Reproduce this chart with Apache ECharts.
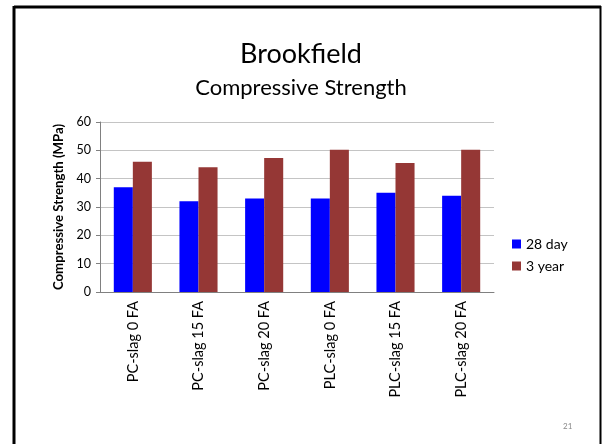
<!DOCTYPE html>
<html>
<head>
<meta charset="utf-8">
<script src="https://cdn.jsdelivr.net/npm/echarts@6/dist/echarts.min.js"></script>
<style>
  html, body { margin: 0; padding: 0; background: #fff; }
  #chart { width: 602px; height: 444px; }
</style>
</head>
<body>
<div id="chart"></div>
<script>
// Mix designs and compressive strength results (MPa)
const categories = ['PC-slag 0 FA', 'PC-slag 15 FA', 'PC-slag 20 FA', 'PLC-slag 0 FA', 'PLC-slag 15 FA', 'PLC-slag 20 FA'];
const day28 = [37, 32, 33, 33, 35, 34];
const year3 = [46, 44, 47.3, 50.2, 45.5, 50.2];
const seriesNames = ['28 day', '3 year'];
const yTicks = { min: 0, max: 60, interval: 10 };

const FONT = 'Lato, "Open Sans", "Liberation Sans", sans-serif';

const chart = echarts.init(document.getElementById('chart'), null, { renderer: 'canvas' });

chart.setOption({
  backgroundColor: '#ffffff',
  animation: false,
  textStyle: { fontFamily: FONT },
  graphic: [
    // slide frame
    { type: 'line', shape: { x1: 14, y1: 7, x2: 601, y2: 7 }, style: { stroke: '#000', lineWidth: 3 } },
    { type: 'line', shape: { x1: 14, y1: 6, x2: 14, y2: 444 }, style: { stroke: '#000', lineWidth: 3 } },
    { type: 'line', shape: { x1: 600.5, y1: 6, x2: 600.5, y2: 444 }, style: { stroke: '#000', lineWidth: 2 } },
    // page number
    { type: 'text', left: 563, top: 422, style: { text: '21', fontSize: 8, fill: '#888', fontFamily: FONT } }
  ],
  title: [
    { text: 'Brookfield', left: 'center', top: 36, textStyle: { fontSize: 27, fontWeight: 'normal', color: '#000', fontFamily: FONT } },
    { text: 'Compressive Strength', left: 'center', top: 72, textStyle: { fontSize: 22, fontWeight: 'normal', color: '#000', fontFamily: FONT } }
  ],
  legend: {
    orient: 'vertical',
    left: 507,
    top: 232,
    itemWidth: 9,
    itemHeight: 9,
    itemGap: 8,
    icon: 'rect',
    textStyle: { fontSize: 14, color: '#000', fontFamily: FONT },
    data: seriesNames
  },
  grid: { left: 100, right: 108, top: 122, bottom: 152 },
  xAxis: {
    type: 'category',
    data: categories,
    axisLine: { lineStyle: { color: '#808080' } },
    axisTick: { show: false },
    axisLabel: { rotate: 90, margin: 9, fontSize: 14.5, color: '#000', fontFamily: FONT }
  },
  yAxis: {
    type: 'value',
    min: yTicks.min,
    max: yTicks.max,
    interval: yTicks.interval,
    name: 'Compressive Strength (MPa)',
    nameLocation: 'middle',
    nameRotate: 90,
    nameGap: 31,
    nameTextStyle: { fontSize: 13.2, fontWeight: 'bold', color: '#000', fontFamily: FONT },
    axisLine: { show: true, lineStyle: { color: '#808080' } },
    axisTick: { show: true, length: 4, lineStyle: { color: '#808080' } },
    axisLabel: { fontSize: 12.5, color: '#000', margin: 9, fontFamily: FONT },
    splitLine: { lineStyle: { color: '#c4c4c4', width: 1 } }
  },
  series: [
    {
      name: seriesNames[0], type: 'bar', data: day28,
      barWidth: '29%', barGap: '0%',
      itemStyle: { color: '#0000ff' }
    },
    {
      name: seriesNames[1], type: 'bar', data: year3,
      barWidth: '29%', barGap: '0%',
      itemStyle: { color: '#953735' }
    }
  ]
});
</script>
</body>
</html>
